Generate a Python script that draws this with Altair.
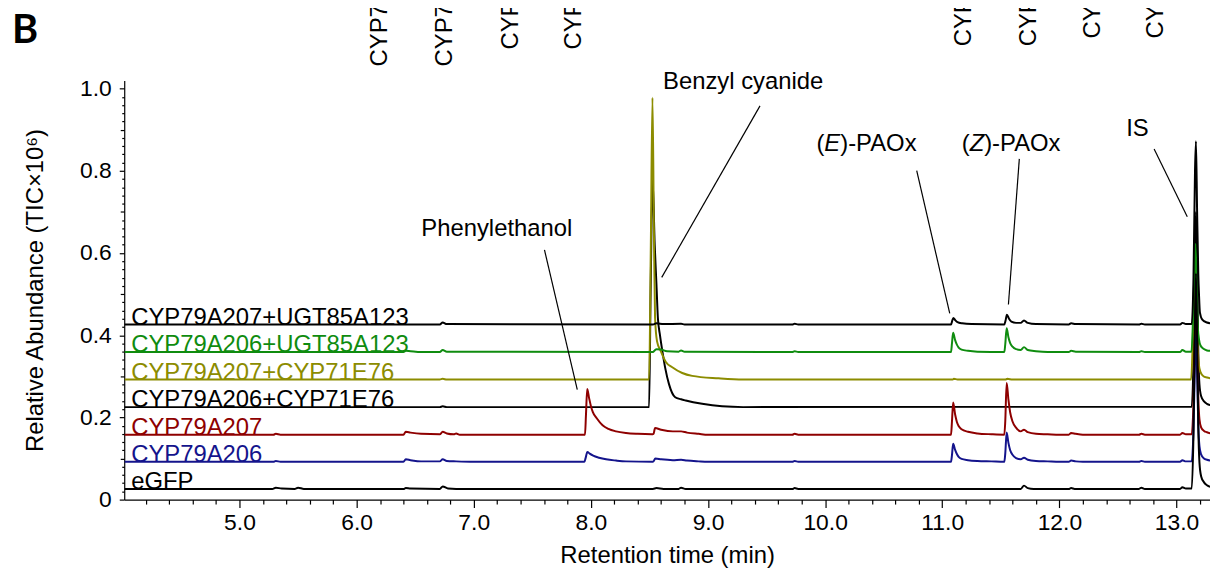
import altair as alt
import pandas as pd

FONT = "Liberation Sans"

# ---------------- data ----------------
SERIES = ["eGFP", "CYP79A206", "CYP79A207", "CYP79A206+CYP71E76",
          "CYP79A207+CYP71E76", "CYP79A206+UGT85A123", "CYP79A207+UGT85A123"]
COLORS = ["#000000", "#14148c", "#8e0000", "#000000", "#8c8c00", "#0f8c0f", "#000000"]
BASELINES = [0.026, 0.092, 0.158, 0.225, 0.292, 0.359, 0.426]
LABEL_T = [4.0755] * 7

EGFP = [(4.02, .026), (5.28, .026), (5.31, .029), (5.36, .027), (5.47, .026), (5.50, .029), (5.55, .026),
        (6.40, .026), (6.42, .028), (6.46, .027), (6.71, .026), (6.735, .032), (6.78, .027), (6.85, .026),
        (8.53, .026), (8.56, .028), (8.62, .026), (8.75, .026), (8.77, .029), (8.81, .026),
        (9.72, .026), (9.74, .028), (9.77, .026),
        (11.67, .026), (11.698, .034), (11.73, .028), (11.78, .026),
        (12.08, .026), (12.10, .028), (12.13, .026), (12.68, .026), (12.70, .029), (12.73, .026),
        (13.03, .026), (13.05, .030), (13.08, .027), (13.13, .027),
        (13.145, .16), (13.158, .44), (13.166, .55), (13.176, .39), (13.186, .18), (13.196, .09),
        (13.21, .057), (13.235, .042), (13.26, .035), (13.29, .031)]

BLUE = [(4.02, .092), (5.29, .092), (5.31, .094), (5.35, .092), (6.40, .092), (6.42, .098), (6.46, .096),
        (6.55, .093), (6.71, .093), (6.735, .098), (6.77, .094), (6.85, .093), (7.0, .092),
        (7.945, .092), (7.955, .101), (7.97, .116), (7.99, .112), (8.02, .107), (8.07, .102), (8.13, .098),
        (8.215, .095), (8.30, .093), (8.52, .092), (8.535, .093), (8.55, .100), (8.60, .098), (8.70, .096),
        (8.77, .097), (8.82, .095), (8.92, .093), (9.0, .092), (9.72, .092), (9.74, .094), (9.77, .092),
        (11.075, .092), (11.083, .108), (11.093, .136), (11.11, .121), (11.125, .111), (11.14, .104),
        (11.165, .099), (11.22, .096), (11.30, .094), (11.42, .093), (11.53, .092),
        (11.538, .112), (11.55, .163), (11.565, .138), (11.58, .120), (11.60, .109), (11.63, .101),
        (11.67, .098), (11.698, .102), (11.73, .097), (11.80, .094), (11.90, .093), (12.0, .092),
        (12.08, .092), (12.10, .095), (12.14, .093), (12.2, .092), (12.68, .092), (12.70, .094), (12.73, .092),
        (13.03, .092), (13.05, .096), (13.08, .093), (13.13, .093),
        (13.145, .17), (13.158, .34), (13.166, .40), (13.176, .31), (13.186, .18), (13.196, .13),
        (13.21, .11), (13.235, .10), (13.26, .097), (13.29, .095)]

RED = [(4.02, .158), (5.29, .158), (5.31, .160), (5.35, .158), (6.40, .158), (6.42, .165), (6.46, .163),
       (6.55, .160), (6.71, .159), (6.735, .165), (6.77, .161), (6.83, .159), (6.85, .161), (6.88, .158),
       (7.95, .158), (7.958, .205), (7.969, .269), (7.985, .247), (8.0, .228), (8.017, .213), (8.05, .198),
       (8.10, .181), (8.15, .172), (8.215, .166), (8.30, .162), (8.40, .160), (8.52, .159),
       (8.535, .160), (8.548, .174), (8.60, .170), (8.70, .166), (8.77, .166), (8.82, .163), (8.92, .160),
       (9.0, .158), (9.72, .158), (9.74, .160), (9.77, .158),
       (11.075, .158), (11.083, .19), (11.093, .236), (11.11, .207), (11.125, .189), (11.14, .179),
       (11.165, .171), (11.22, .165), (11.30, .161), (11.42, .159), (11.53, .158),
       (11.538, .19), (11.55, .284), (11.565, .243), (11.58, .212), (11.60, .190), (11.63, .175),
       (11.67, .166), (11.698, .170), (11.73, .164), (11.80, .160), (11.90, .159), (12.0, .158),
       (12.08, .158), (12.10, .162), (12.14, .160), (12.2, .158), (12.68, .158), (12.70, .160), (12.73, .158),
       (13.03, .158), (13.05, .162), (13.08, .159), (13.13, .159),
       (13.145, .235), (13.158, .40), (13.166, .463), (13.176, .37), (13.186, .25), (13.196, .195),
       (13.21, .176), (13.235, .167), (13.26, .164), (13.29, .161)]

BLK71 = [(4.02, .225), (6.71, .225), (6.735, .227), (6.77, .225), (8.497, .225), (8.51, .50), (8.527, .78),
         (8.545, .62), (8.56, .523), (8.572, .443), (8.59, .40), (8.61, .362), (8.635, .32), (8.667, .281),
         (8.72, .249), (8.77, .244), (8.81, .241), (8.95, .233), (9.12, .227), (9.3, .225),
         (13.13, .226), (13.145, .34), (13.158, .60), (13.166, .70), (13.176, .56), (13.186, .36),
         (13.196, .28), (13.21, .252), (13.235, .239), (13.26, .233), (13.29, .230)]

OLIVE = [(4.02, .292), (6.71, .292), (6.735, .294), (6.77, .292), (8.497, .292), (8.512, .62), (8.526, .978),
         (8.538, .66), (8.548, .443), (8.565, .385), (8.596, .362), (8.64, .335), (8.695, .322), (8.78, .308),
         (8.865, .301), (9.09, .295), (9.3, .292), (11.09, .292), (11.10, .294), (11.13, .292),
         (11.54, .292), (11.555, .294), (11.6, .292),
         (13.125, .292), (13.14, .40), (13.153, .55), (13.16, .60), (13.17, .50), (13.18, .38), (13.19, .33),
         (13.205, .31), (13.23, .30), (13.26, .297), (13.29, .295)]

GREEN = [(4.02, .359), (6.40, .359), (6.42, .362), (6.46, .361), (6.55, .359), (6.71, .359), (6.735, .364),
         (6.77, .360), (8.53, .359), (8.545, .363), (8.56, .366), (8.60, .365), (8.65, .361), (8.75, .360),
         (8.77, .363), (8.80, .360), (9.72, .359), (9.74, .361), (9.77, .359),
         (11.075, .359), (11.083, .38), (11.093, .406), (11.11, .388), (11.125, .377), (11.14, .370),
         (11.165, .365), (11.22, .362), (11.30, .360), (11.53, .359),
         (11.538, .378), (11.55, .417), (11.565, .395), (11.58, .381), (11.60, .372), (11.63, .366),
         (11.67, .364), (11.698, .371), (11.73, .364), (11.80, .361), (11.9, .359),
         (12.08, .359), (12.10, .362), (12.14, .360), (12.68, .359), (12.70, .361), (12.73, .359),
         (13.03, .359), (13.05, .364), (13.08, .360), (13.128, .360),
         (13.142, .45), (13.155, .58), (13.162, .622), (13.172, .53), (13.182, .42), (13.192, .39),
         (13.205, .375), (13.23, .367), (13.26, .363), (13.29, .362)]

BLKUGT = [(4.02, .426), (6.71, .426), (6.735, .431), (6.77, .427), (8.53, .426), (8.56, .429), (8.62, .427),
          (8.77, .428), (8.80, .426), (9.72, .426), (9.74, .428), (9.77, .426),
          (11.075, .426), (11.085, .435), (11.095, .442), (11.11, .437), (11.13, .432), (11.17, .429),
          (11.25, .427), (11.53, .426), (11.54, .435), (11.552, .450), (11.57, .440), (11.59, .433),
          (11.63, .430), (11.67, .430), (11.698, .436), (11.73, .430), (11.80, .427),
          (12.08, .426), (12.10, .429), (12.14, .427), (12.68, .426), (12.70, .428), (12.73, .426),
          (13.03, .426), (13.05, .430), (13.08, .427), (13.13, .427),
          (13.145, .54), (13.158, .80), (13.166, .872), (13.176, .70), (13.186, .55), (13.192, .50),
          (13.20, .455), (13.22, .438), (13.26, .431), (13.29, .429)]

TRACES = [EGFP, BLUE, RED, BLK71, OLIVE, GREEN, BLKUGT]
DRAW_ORDER = [3, 4, 5, 2, 1, 0, 6]

# annotations
ANN_TEXT = ["Phenylethanol", "Benzyl cyanide", "IS"]
ANN_T = [7.197, 9.300, 12.667]
ANN_V = [0.641, 0.998, 0.885]

PAOX_LETTER = ["E", "Z"]
PAOX_T = [10.061, 11.296]
PAOX_V = [0.849, 0.849]
PAOX_HALF = [8.0, 7.3]

PTR_T1 = [7.604, 9.444, 10.782, 11.658, 12.809]
PTR_V1 = [0.6075, 0.958, 0.8007, 0.829, 0.853]
PTR_T2 = [7.884, 8.605, 11.064, 11.565, 13.092]
PTR_V2 = [0.2676, 0.5406, 0.4529, 0.4746, 0.688]

TOP_TEXT = ["CYP79A206", "CYP79A207", "CYP79A206+CYP71E76", "CYP79A207+CYP71E76",
            "CYP79A206+UGT85A123", "CYP79A207+UGT85A123", "CYP79A206", "CYP79A207"]
TOP_T = [6.204, 6.756, 7.316, 7.858, 11.183, 11.743, 12.286, 12.829]
TOP_V = [1.054, 1.054, 1.095, 1.095, 1.103, 1.103, 1.122, 1.122]

X_DOMAIN = [4.016, 13.286]
Y_DOMAIN = [0, 1.02]
X_MAJOR = [5.0, 6.0, 7.0, 8.0, 9.0, 10.0, 11.0, 12.0, 13.0]
X_MINOR = [round(4.2 + 0.2 * i, 1) for i in range(46) if abs((4.2 + 0.2 * i) - round(4.2 + 0.2 * i)) > 0.01]
Y_MAJOR = [0.0, 0.2, 0.4, 0.6, 0.8, 1.0]
Y_MID = [0.1, 0.3, 0.5, 0.7, 0.9]
Y_MINOR = [round(0.02 * i, 2) for i in range(51) if i % 5 != 0]

# ---------------- chart ----------------
xs = alt.Scale(domain=X_DOMAIN, nice=False, zero=False)
ys = alt.Scale(domain=Y_DOMAIN, nice=False, zero=False)

layers = []
for i in DRAW_ORDER:
    df = pd.DataFrame(TRACES[i], columns=["t", "v"])
    layers.append(
        alt.Chart(df).mark_line(color=COLORS[i], strokeWidth=2, clip=True, interpolate="monotone").encode(
            x=alt.X("t:Q", scale=xs, axis=None),
            y=alt.Y("v:Q", scale=ys, axis=None),
        )
    )

lab_df = pd.DataFrame({"name": SERIES, "t": LABEL_T, "v": BASELINES, "color": COLORS})
layers.append(
    alt.Chart(lab_df).mark_text(align="left", baseline="alphabetic", font=FONT, fontSize=24).encode(
        x=alt.X("t:Q", scale=xs, axis=None), y=alt.Y("v:Q", scale=ys, axis=None),
        text="name:N", color=alt.Color("color:N", scale=None),
    )
)

ann_df = pd.DataFrame({"text": ANN_TEXT, "t": ANN_T, "v": ANN_V})
layers.append(
    alt.Chart(ann_df).mark_text(align="center", baseline="alphabetic", font=FONT, fontSize=24, color="black").encode(
        x=alt.X("t:Q", scale=xs, axis=None), y=alt.Y("v:Q", scale=ys, axis=None), text="text:N",
    )
)

for k in range(2):
    pdf = pd.DataFrame({"t": [PAOX_T[k]], "v": [PAOX_V[k]]})
    base = alt.Chart(pdf).encode(x=alt.X("t:Q", scale=xs, axis=None), y=alt.Y("v:Q", scale=ys, axis=None))
    layers.append(base.mark_text(align="center", baseline="alphabetic", font=FONT, fontSize=24,
                                 fontStyle="italic", color="black", text=PAOX_LETTER[k]))
    layers.append(base.mark_text(align="right", baseline="alphabetic", font=FONT, fontSize=24,
                                 color="black", text="(", dx=-PAOX_HALF[k]))
    layers.append(base.mark_text(align="left", baseline="alphabetic", font=FONT, fontSize=24,
                                 color="black", text=")-PAOx", dx=PAOX_HALF[k]))

ptr_df = pd.DataFrame({"t1": PTR_T1, "v1": PTR_V1, "t2": PTR_T2, "v2": PTR_V2})
layers.append(
    alt.Chart(ptr_df).mark_rule(color="black", strokeWidth=1.2).encode(
        x=alt.X("t1:Q", scale=xs, axis=None), y=alt.Y("v1:Q", scale=ys, axis=None),
        x2="t2:Q", y2="v2:Q",
    )
)

top_df = pd.DataFrame({"text": TOP_TEXT, "t": TOP_T, "v": TOP_V})
layers.append(
    alt.Chart(top_df).mark_text(align="left", baseline="middle", angle=270, font=FONT, fontSize=24,
                                color="black").encode(
        x=alt.X("t:Q", scale=xs, axis=None), y=alt.Y("v:Q", scale=ys, axis=None), text="text:N",
    )
)

b_df = pd.DataFrame({"text": ["B"], "t": [3.058], "v": [1.110]})
layers.append(
    alt.Chart(b_df).mark_text(align="left", baseline="alphabetic", font="Lato", fontWeight="bold",
                              fontSize=40, color="black").encode(
        x=alt.X("t:Q", scale=xs, axis=None), y=alt.Y("v:Q", scale=ys, axis=None), text="text:N",
    )
)

# axes (major, mid, minor ticks) as invisible layers with independent axes on a shared scale
dummy = pd.DataFrame({"t": [5.0], "v": [0.5]})
layers.append(
    alt.Chart(dummy).mark_point(opacity=0).encode(
        x=alt.X("t:Q", scale=xs, title="Retention time (min)",
                axis=alt.Axis(orient="bottom", values=X_MAJOR, format=".1f", tickSize=8, labelPadding=4,
                              titlePadding=9, domain=True)),
        y=alt.Y("v:Q", scale=ys, title="Relative Abundance (TIC×10⁶)",
                axis=alt.Axis(orient="left", values=Y_MAJOR, tickSize=5, labelPadding=8, titlePadding=32,
                              labelExpr="datum.value == 0 ? '0' : format(datum.value, '.1f')", domain=True)),
    )
)
layers.append(
    alt.Chart(dummy).mark_point(opacity=0).encode(
        x=alt.X("t:Q", scale=xs, title=None,
                axis=alt.Axis(orient="bottom", values=X_MINOR, labels=False, tickSize=4.5, domain=False)),
        y=alt.Y("v:Q", scale=ys, title=None,
                axis=alt.Axis(orient="left", values=Y_MID, labels=False, tickSize=4, domain=False)),
    )
)
layers.append(
    alt.Chart(dummy).mark_point(opacity=0).encode(
        x=alt.X("t:Q", scale=xs, axis=None),
        y=alt.Y("v:Q", scale=ys, title=None,
                axis=alt.Axis(orient="left", values=Y_MINOR, labels=False, tickSize=2.5, domain=False)),
    )
)

chart = (
    alt.layer(*layers)
    .resolve_axis(x="independent", y="independent")
    .properties(width=1093, height=422, autosize=alt.AutoSizeParams(type="none"),
                padding={"left": 117, "top": 71, "right": 0, "bottom": 70})
    .configure_axis(labelFont=FONT, titleFont=FONT, labelFontSize=23, titleFontSize=24,
                    labelColor="black", titleColor="black", tickColor="black", domainColor="black",
                    titleFontWeight="normal", grid=False, tickWidth=1.2, domainWidth=1.2)
    .configure_view(stroke=None)
)

chart.save("out.html", embed_options={"renderer": "svg", "actions": False})
